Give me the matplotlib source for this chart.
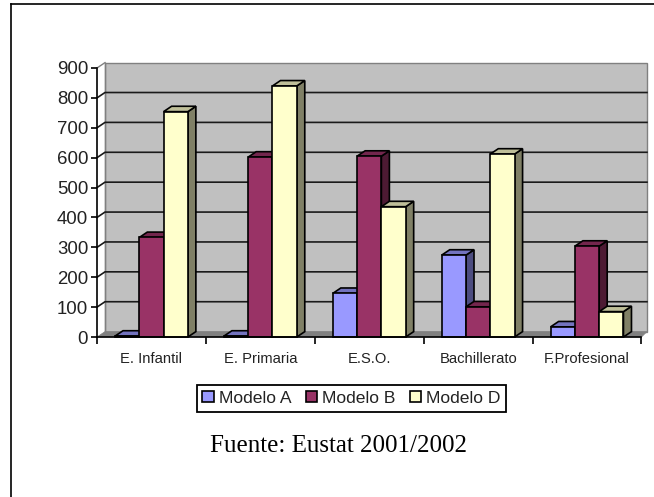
import matplotlib
matplotlib.use('Agg')
import matplotlib.pyplot as plt
from matplotlib.lines import Line2D
import numpy as np

categories = ['E. Infantil', 'E. Primaria', 'E.S.O.', 'Bachillerato', 'F.Profesional']
modelo_a = [3, 3, 146, 274, 34]
modelo_b = [333, 602, 605, 101, 304]
modelo_d = [754, 840, 436, 612, 85]
y_ticks = [0, 100, 200, 300, 400, 500, 600, 700, 800, 900]

names = ['Modelo A', 'Modelo B', 'Modelo D']
front = ['#9999FF', '#993366', '#FFFFCC']
top = ['#7373BF', '#73264D', '#BFBF99']
side = ['#4D4D80', '#4D1A33', '#808066']

W, H = 654, 497
plt.rcParams['font.family'] = ['Liberation Sans', 'DejaVu Sans']
fig = plt.figure(figsize=(W/100, H/100), dpi=100)
ax = fig.add_axes([97/W, 1-337/H, 544.5/W, 269/H])
ax.set_xlim(0, 5)
ax.set_ylim(0, 900)
ax.patch.set_visible(False)
for s in ['top', 'right']:
  ax.spines[s].set_visible(False)
for s in ['left', 'bottom']:
  ax.spines[s].set_linewidth(1.2)
  ax.spines[s].set_zorder(50)

dx = 8/108.9
dy = 18
bar_w = 0.223
right = 5 + 0.05

# back wall, floor and grid
ax.fill([dx, right, right, dx], [dy, dy, 900+dy, 900+dy], fc='#C0C0C0', ec='#808080', lw=1, clip_on=False, zorder=1)
ax.fill([0, 5, right, dx], [0, 0, dy, dy], fc='#808080', ec='#808080', lw=0.5, clip_on=False, zorder=2)
ax.plot([0, dx], [900, 900+dy], color='#808080', lw=1, clip_on=False, zorder=2)
ax.plot([dx, dx], [dy, 900+dy], color='#808080', lw=1, clip_on=False, zorder=2)
for v in y_ticks[1:-1]:
  ax.plot([0, dx, right], [v, v+dy, v+dy], color='#1A1A1A', lw=1.2, clip_on=False, zorder=3)

# bars, left to right so each one hides the side of the previous one
z = 10
offsets = [-bar_w, 0, bar_w]
x = np.arange(5) + 0.5
for i in range(5):
  for j, vals in enumerate([modelo_a, modelo_b, modelo_d]):
    v = vals[i]
    x0 = x[i] + offsets[j] - bar_w/2
    x1 = x0 + bar_w
    ax.fill([x1, x1+dx, x1+dx, x1], [0, dy, v+dy, v], fc=side[j], ec='black', lw=1.2, clip_on=False, zorder=z)
    ax.fill([x0, x1, x1+dx, x0+dx], [v, v, v+dy, v+dy], fc=top[j], ec='black', lw=1.2, clip_on=False, zorder=z)
    ax.bar(x0, v, bar_w, align='edge', color=front[j], edgecolor='black', lw=1.2, clip_on=False, zorder=z)
    z += 1

ax.set_yticks(y_ticks)
ax.set_xticks(range(6))
ax.set_xticklabels([])
ax.tick_params(axis='y', length=4, width=1.2, labelsize=13.4, pad=2.3, labelcolor='#222222')
ax.tick_params(axis='x', length=5, width=1.2)
for i, c in enumerate(categories):
  ax.text(x[i], -72, c, ha='center', va='center', fontsize=10.6, color='#222222')

handles = [plt.Rectangle((0, 0), 1, 1, fc=front[j], ec='black', lw=1.2) for j in range(3)]
leg = fig.legend(handles, names, ncol=3, loc='center', bbox_to_anchor=(351.5/W, 1-398.5/H),
                 fontsize=12.6, fancybox=False, framealpha=1, edgecolor='black',
                 handlelength=0.65, handleheight=0.6, handletextpad=0.3, columnspacing=0.8,
                 borderpad=0.32, borderaxespad=0, labelcolor='#222222')
leg.get_frame().set_linewidth(1.3)

fig.text(338/W, 1-446/H, 'Fuente: Eustat 2001/2002', ha='center', va='center', fontsize=18,
         family=['Liberation Serif', 'DejaVu Serif'], color='black')

fig.add_artist(Line2D([11/W, 11/W], [0, 1-4/H], color='black', lw=1.2))
fig.add_artist(Line2D([11/W, 1], [1-4/H, 1-4/H], color='black', lw=1.2))

fig.savefig('out.png', dpi=100)
